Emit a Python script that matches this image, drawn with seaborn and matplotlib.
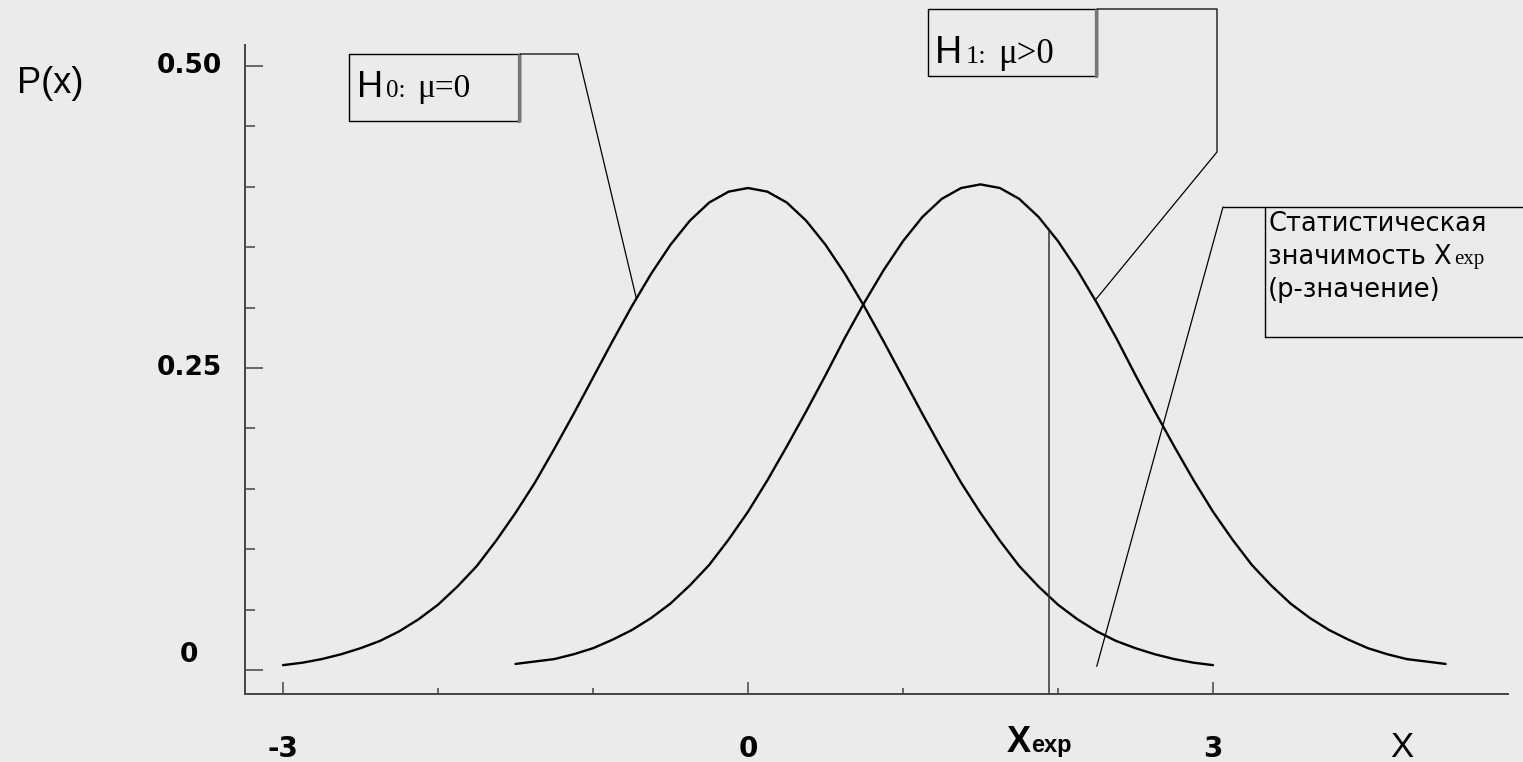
import numpy as np
import pandas as pd
import seaborn as sns
import matplotlib.pyplot as plt

# --- data ---
# H0: mu = 0
h0_x = [-3.0, -2.875, -2.75, -2.625, -2.5, -2.375, -2.25, -2.125, -2.0, -1.875, -1.75, -1.625,
        -1.5, -1.375, -1.25, -1.125, -1.0, -0.875, -0.75, -0.625, -0.5, -0.375, -0.25, -0.125,
        0.0, 0.125, 0.25, 0.375, 0.5, 0.625, 0.75, 0.875, 1.0, 1.125, 1.25, 1.375,
        1.5, 1.625, 1.75, 1.875, 2.0, 2.125, 2.25, 2.375, 2.5, 2.625, 2.75, 2.875, 3.0]
h0_y = [0.004, 0.006, 0.009, 0.013, 0.018, 0.024, 0.032, 0.042, 0.054, 0.069, 0.086, 0.107,
        0.130, 0.155, 0.183, 0.212, 0.242, 0.272, 0.301, 0.328, 0.352, 0.372, 0.387, 0.396,
        0.399, 0.396, 0.387, 0.372, 0.352, 0.328, 0.301, 0.272, 0.242, 0.212, 0.183, 0.155,
        0.130, 0.107, 0.086, 0.069, 0.054, 0.042, 0.032, 0.024, 0.018, 0.013, 0.009, 0.006, 0.004]
# H1: mu > 0
h1_x = [-1.5, -1.375, -1.25, -1.125, -1.0, -0.875, -0.75, -0.625, -0.5, -0.375, -0.25, -0.125,
        0.0, 0.125, 0.25, 0.375, 0.5, 0.625, 0.75, 0.875, 1.0, 1.125, 1.25, 1.375,
        1.5, 1.625, 1.75, 1.875, 2.0, 2.125, 2.25, 2.375, 2.5, 2.625, 2.75, 2.875,
        3.0, 3.125, 3.25, 3.375, 3.5, 3.625, 3.75, 3.875, 4.0, 4.125, 4.25, 4.375, 4.5]
h1_y = [0.005, 0.007, 0.009, 0.013, 0.018, 0.025, 0.033, 0.043, 0.055, 0.070, 0.087, 0.108,
        0.131, 0.157, 0.185, 0.214, 0.244, 0.275, 0.304, 0.331, 0.355, 0.375, 0.390, 0.399,
        0.402, 0.399, 0.390, 0.375, 0.355, 0.331, 0.304, 0.275, 0.244, 0.214, 0.185, 0.157,
        0.131, 0.108, 0.087, 0.070, 0.055, 0.043, 0.033, 0.025, 0.018, 0.013, 0.009, 0.007, 0.005]
x_exp = 1.94

y_ticks = [0.0, 0.25, 0.50]
y_tick_labels = ["0", "0.25", "0.50"]
x_ticks = [-3, 0, 3]
x_tick_labels = ["-3", "0", "3"]

W, H = 1523, 762
BG = "#ebebeb"

sns.set_style("white")
plt.rcParams["font.family"] = ["Liberation Sans", "DejaVu Sans"]
plt.rcParams["text.color"] = "black"

fig = plt.figure(figsize=(W / 100, H / 100), dpi=100, facecolor=BG)
# axis box in pixels: left 245, right 1508, top 45, bottom 694
ax = fig.add_axes([245 / W, (H - 694) / H, (1508 - 245) / W, (694 - 45) / H])
ax.set_facecolor("none")
ax.set_xlim(-3.245, 4.903)
ax.set_ylim(-0.0199, 0.5174)

df0 = pd.DataFrame({"x": h0_x, "p": h0_y})
df1 = pd.DataFrame({"x": h1_x, "p": h1_y})
sns.lineplot(data=df0, x="x", y="p", color="black", lw=1.7, ax=ax, estimator=None)
sns.lineplot(data=df1, x="x", y="p", color="black", lw=1.7, ax=ax, estimator=None)

# vertical line at X_exp up to the H1 curve
y_exp = np.interp(x_exp, h1_x, h1_y)
ax.plot([x_exp, x_exp], [ax.get_ylim()[0], y_exp], color="#333333", lw=1.1, clip_on=False)

# axes styling
sns.despine(ax=ax)
for s in ["left", "bottom"]:
    ax.spines[s].set_color("#444444")
    ax.spines[s].set_linewidth(1.4)
ax.set_xlabel("")
ax.set_ylabel("")
ax.set_xticks(x_ticks)
ax.set_xticks([-2, -1, 1, 2], minor=True)
ax.set_yticks(y_ticks)
ax.set_yticks(np.arange(0.05, 0.5, 0.05), minor=True)
ax.tick_params(which="both", direction="in", colors="#444444", bottom=True, left=True,
               labelleft=False, labelbottom=False)
ax.tick_params(axis="x", which="major", length=8.5, width=1.1)
ax.tick_params(axis="x", which="minor", length=4, width=1.1)
ax.tick_params(axis="y", which="major", length=13, width=1.1)
ax.tick_params(axis="y", which="minor", length=7, width=1.1)


def px(x, y):
    return ax.transData.inverted().transform((x, H - y))


bold = dict(family="DejaVu Sans", fontweight="bold", color="black")

# y tick labels (centred at x ~ 189 px)
for v, lab in zip(y_ticks, y_tick_labels):
    ypix = H - ax.transData.transform((0, v))[1]
    if v == 0:
        ypix -= 15
    xx, yy = px(189, ypix)
    ax.text(xx, yy, lab, ha="center", va="center", fontsize=19, clip_on=False, **bold)

# x tick labels
for v, lab in zip(x_ticks, x_tick_labels):
    ax.text(v, px(0, 735)[1], lab, ha="center", va="top", fontsize=20, clip_on=False, **bold)

# X_exp label
xe, ye = px(1031, 752)
ax.text(xe, ye, "X", ha="right", va="baseline", fontsize=26,
        family="Liberation Sans", fontweight="bold", clip_on=False)
ax.text(xe, ye, "exp", ha="left", va="baseline", fontsize=17,
        family="Liberation Sans", fontweight="bold", clip_on=False)

# X axis name and P(x)
ax.text(px(1402, 0)[0], px(0, 757)[1], "X", ha="center", va="baseline", fontsize=25,
        family="Liberation Sans", clip_on=False)
ax.text(*px(17, 93), "P(x)", ha="left", va="baseline", fontsize=26,
        family="Liberation Sans", clip_on=False)


def line(points, lw=0.9, color="black"):
    pts = np.array(points)
    ax.plot(pts[:, 0], pts[:, 1], color=color, lw=lw, clip_on=False)


def box(x0, y0, x1, y1):
    line([px(x0, y0), px(x1, y0), px(x1, y1), px(x0, y1), px(x0, y0)], lw=1.0)
    line([px(x1 - 1, y0 + 1), px(x1 - 1, y1)], lw=2.4, color="#777777")


# H0 box and leader to H0 curve
box(349, 54, 520, 121)
lead0_x = -0.72
line([px(520, 54), px(578, 54), (lead0_x, np.interp(lead0_x, h0_x, h0_y))])
ax.text(*px(357, 97), "H", ha="left", va="baseline", fontsize=26, family="Liberation Sans", clip_on=False)
ax.text(*px(386, 97), "0:", ha="left", va="baseline", fontsize=18, family="Liberation Serif", clip_on=False)
ax.text(*px(417, 97), "\u03bc=0", ha="left", va="baseline", fontsize=24, family="Liberation Serif", clip_on=False)

# H1 box and leader to H1 curve
box(928, 9, 1097, 76)
lead1_x = 2.24
line([px(1097, 9), px(1217, 9), px(1217, 152), (lead1_x, np.interp(lead1_x, h1_x, h1_y))])
ax.text(*px(935, 63), "H", ha="left", va="baseline", fontsize=27, family="Liberation Sans", clip_on=False)
ax.text(*px(966, 63), "1:", ha="left", va="baseline", fontsize=19, family="Liberation Serif", clip_on=False)
ax.text(*px(998, 63), "\u03bc>0", ha="left", va="baseline", fontsize=25, family="Liberation Serif", clip_on=False)

# p-value box, open on the right
line([px(1223, 207), px(1530, 207)], lw=1.0)
line([px(1265, 207), px(1265, 337), px(1530, 337)], lw=1.0)
line([px(1223, 207), (2.25, 0.003)])
stat = dict(ha="left", va="baseline", fontsize=18.5, family="DejaVu Sans", clip_on=False)
ax.text(*px(1268, 231), "Статистическая", **stat)
t2 = ax.text(*px(1268, 264), "значимость X", **stat)
ax.annotate("exp", xy=(1, 0), xycoords=t2, xytext=(1.5, 4.3), textcoords="offset points",
            ha="left", va="baseline", fontsize=15, family="Liberation Serif", annotation_clip=False)
ax.text(*px(1268, 297), "(р-значение)", **stat)

fig.savefig("out.png", dpi=100, facecolor=BG)
